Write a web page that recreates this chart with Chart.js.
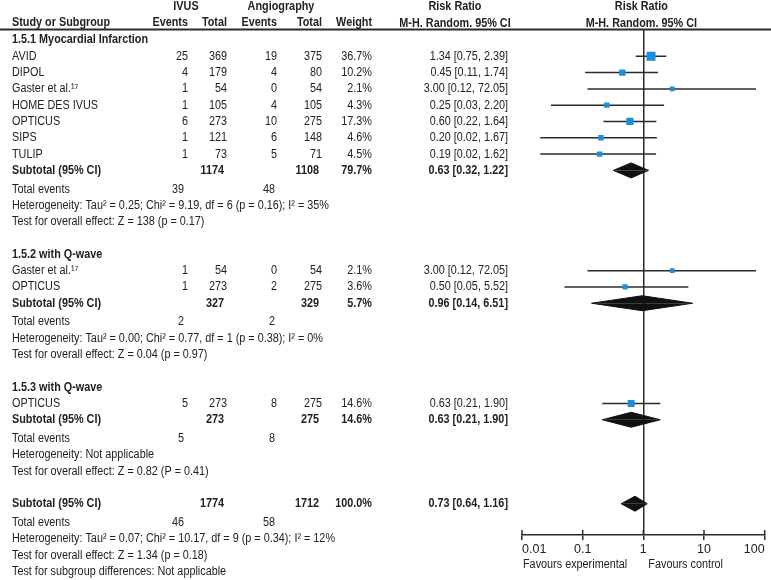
<!DOCTYPE html>
<html>
<head>
<meta charset="utf-8">
<script src="https://cdn.jsdelivr.net/npm/chart.js"></script>
<style>
  body { margin: 0; background: #fff; }
  canvas { display: block; }
</style>
</head>
<body>
<canvas id="forest" width="771" height="580"></canvas>
<script>
// ---- data ----
const groupTitles = ["1.5.1 Myocardial Infarction", "1.5.2 with Q-wave", "1.5.3 with Q-wave"];
const studyNames = [
  ["AVID", "DIPOL", "Gaster et al.\u00B9\u2077", "HOME DES IVUS", "OPTICUS", "SIPS", "TULIP"],
  ["Gaster et al.\u00B9\u2077", "OPTICUS"],
  ["OPTICUS"],
];
const ivusEvents = [[25, 4, 1, 1, 6, 1, 1], [1, 1], [5]];
const ivusTotal = [[369, 179, 54, 105, 273, 121, 73], [54, 273], [273]];
const angioEvents = [[19, 4, 0, 4, 10, 6, 5], [0, 2], [8]];
const angioTotal = [[375, 80, 54, 105, 275, 148, 71], [54, 275], [275]];
const weights = [[36.7, 10.2, 2.1, 4.3, 17.3, 4.6, 4.5], [2.1, 3.6], [14.6]];
const riskRatio = [[1.34, 0.45, 3.0, 0.25, 0.6, 0.2, 0.19], [3.0, 0.5], [0.63]];
const ciLow = [[0.75, 0.11, 0.12, 0.03, 0.22, 0.02, 0.02], [0.12, 0.05], [0.21]];
const ciHigh = [[2.39, 1.74, 72.05, 2.2, 1.64, 1.67, 1.62], [72.05, 5.52], [1.9]];

const subIvusTotal = [1174, 327, 273];
const subAngioTotal = [1108, 329, 275];
const subWeight = ["79.7%", "5.7%", "14.6%"];
const subRR = [0.63, 0.96, 0.63];
const subLow = [0.32, 0.14, 0.21];
const subHigh = [1.22, 6.51, 1.9];
const subEventsIvus = [39, 2, 5];
const subEventsAngio = [48, 2, 8];
const heterogeneity = [
  "Heterogeneity: Tau\u00B2 = 0.25; Chi\u00B2 = 9.19, df = 6 (p = 0.16); I\u00B2 = 35%",
  "Heterogeneity: Tau\u00B2 = 0.00; Chi\u00B2 = 0.77, df = 1 (p = 0.38); I\u00B2 = 0%",
  "Heterogeneity: Not applicable",
];
const overallEffect = [
  "Test for overall effect: Z = 138 (p = 0.17)",
  "Test for overall effect: Z = 0.04 (p = 0.97)",
  "Test for overall effect: Z = 0.82 (P = 0.41)",
];

const totalIvus = 1774;
const totalAngio = 1712;
const totalWeight = "100.0%";
const totalEvents = [46, 58];
const totalText = "0.73 [0.64, 1.16]";
const totalMark = [0.43, 0.73, 1.16]; // diamond as drawn: low, estimate, high
const totalNotes = [
  "Heterogeneity: Tau\u00B2 = 0.07; Chi\u00B2 = 10.17, df = 9 (p = 0.34); I\u00B2 = 12%",
  "Test for overall effect: Z = 1.34 (p = 0.18)",
  "Test for subgroup differences: Not applicable",
];
const axisTicks = [0.01, 0.1, 1, 10, 100];

// ---- layout: one slot per text line ----
const FONT = '"Liberation Sans", Arial, sans-serif';
const FS = 12.5;
const INK = "#222";
const LINE = "#2b2b2b";
const BLUE = "#1b8edc";

const rows = [];
let slot = 0;
groupTitles.forEach(function (title, g) {
  rows.push({ type: "title", slot: slot, g: g });
  slot += 1;
  studyNames[g].forEach(function (name, i) {
    rows.push({ type: "study", slot: slot, g: g, i: i });
    slot += 1;
  });
  rows.push({ type: "subtotal", slot: slot, g: g });
  slot += 1.15;
  rows.push({ type: "events", slot: slot, g: g });
  slot += 1;
  rows.push({ type: "note", slot: slot, text: heterogeneity[g] });
  slot += 1;
  rows.push({ type: "note", slot: slot, text: overallEffect[g] });
  slot += 2;
});
rows.push({ type: "total", slot: slot });
slot += 1.15;
rows.push({ type: "totalEvents", slot: slot });
slot += 1;
totalNotes.forEach(function (t) {
  rows.push({ type: "note", slot: slot, text: t });
  slot += 1;
});

function ci(v, lo, hi) {
  return v.toFixed(2) + " [" + lo.toFixed(2) + ", " + hi.toFixed(2) + "]";
}

// ---- datasets ----
const squarePts = [];
const squareSize = [];
const datasets = [];
const ciSets = [];
const diamondSets = [];
const H = 0.46; // diamond half height in slots

function addDiamond(s, lo, est, hi) {
  [-H, H].forEach(function (d) {
    diamondSets.push({
      data: [{ x: lo, y: s }, { x: est, y: s + d }, { x: hi, y: s }],
      showLine: true,
      borderColor: "#111",
      backgroundColor: "#111",
      borderWidth: 1,
      pointRadius: 0,
      fill: { value: s },
    });
  });
}

rows.forEach(function (r) {
  if (r.type === "study") {
    const g = r.g, i = r.i;
    squarePts.push({ x: riskRatio[g][i], y: r.slot });
    squareSize.push((3.5 + 0.9 * Math.sqrt(weights[g][i])) / Math.SQRT2);
    ciSets.push({
      data: [{ x: ciLow[g][i], y: r.slot }, { x: ciHigh[g][i], y: r.slot }],
      showLine: true,
      borderColor: LINE,
      borderWidth: 1.5,
      pointRadius: 0,
    });
  } else if (r.type === "subtotal") {
    addDiamond(r.slot, subLow[r.g], subRR[r.g], subHigh[r.g]);
  } else if (r.type === "total") {
    addDiamond(r.slot, totalMark[0], totalMark[1], totalMark[2]);
  }
});

// first dataset is drawn on top
datasets.push({
  data: squarePts,
  pointStyle: "rect",
  pointRadius: squareSize,
  pointHoverRadius: squareSize,
  backgroundColor: BLUE,
  borderWidth: 0,
});
ciSets.forEach(function (d) { datasets.push(d); });
diamondSets.forEach(function (d) { datasets.push(d); });

// ---- text table drawn next to the plot ----
// the original uses a narrow face: squeeze Liberation Sans to the same width
let squeeze = 1;
function txt(ctx, s, x, y, align, bold) {
  ctx.font = (bold ? "bold " : "") + FS + "px " + FONT;
  const w = ctx.measureText(String(s)).width * squeeze;
  let x0 = x;
  if (align === "right") x0 = x - w;
  else if (align === "center") x0 = x - w / 2;
  ctx.save();
  ctx.translate(x0, y);
  ctx.scale(squeeze, 1);
  ctx.textAlign = "left";
  ctx.fillText(String(s), 0, 0);
  ctx.restore();
}

const forestText = {
  id: "forestText",
  afterDraw: function (chart) {
    const ctx = chart.ctx;
    const ys = chart.scales.y;
    const xs = chart.scales.x;
    const area = chart.chartArea;
    ctx.save();
    ctx.font = FS + "px " + FONT;
    squeeze = 317 / ctx.measureText(heterogeneity[0]).width;

    ctx.fillStyle = LINE;
    ctx.fillRect(0, area.top - 1.5, chart.width, 2);

    // tick marks above the axis line
    ctx.strokeStyle = LINE;
    ctx.lineWidth = 1.5;
    axisTicks.forEach(function (v) {
      const px = xs.getPixelForValue(v);
      ctx.beginPath();
      ctx.moveTo(px, area.bottom - 5);
      ctx.lineTo(px, area.bottom);
      ctx.stroke();
    });

    ctx.fillStyle = INK;
    ctx.textBaseline = "middle";
    const mid = xs.getPixelForValue(1);
    // headers
    txt(ctx, "IVUS", 186, 7, "center", true);
    txt(ctx, "Angiography", 281, 7, "center", true);
    txt(ctx, "Risk Ratio", 455, 7, "center", true);
    txt(ctx, "Risk Ratio", mid - 2, 7, "center", true);
    txt(ctx, "Study or Subgroup", 12, 23, "left", true);
    txt(ctx, "Events", 188, 23, "right", true);
    txt(ctx, "Total", 227, 23, "right", true);
    txt(ctx, "Events", 277, 23, "right", true);
    txt(ctx, "Total", 322, 23, "right", true);
    txt(ctx, "Weight", 372, 23, "right", true);
    txt(ctx, "M-H. Random. 95% CI", 455, 24, "center", true);
    txt(ctx, "M-H. Random. 95% CI", mid - 2, 24, "center", true);

    rows.forEach(function (r) {
      const y = ys.getPixelForValue(r.slot);
      const g = r.g;
      if (r.type === "title") {
        txt(ctx, groupTitles[g], 12, y, "left", true);
      } else if (r.type === "study") {
        const i = r.i;
        txt(ctx, studyNames[g][i], 12, y);
        txt(ctx, ivusEvents[g][i], 188, y, "right");
        txt(ctx, ivusTotal[g][i], 227, y, "right");
        txt(ctx, angioEvents[g][i], 277, y, "right");
        txt(ctx, angioTotal[g][i], 322, y, "right");
        txt(ctx, weights[g][i].toFixed(1) + "%", 372, y, "right");
        txt(ctx, ci(riskRatio[g][i], ciLow[g][i], ciHigh[g][i]), 508, y, "right");
      } else if (r.type === "subtotal") {
        txt(ctx, "Subtotal (95% CI)", 12, y, "left", true);
        txt(ctx, subIvusTotal[g], 224, y, "right", true);
        txt(ctx, subAngioTotal[g], 319, y, "right", true);
        txt(ctx, subWeight[g], 372, y, "right", true);
        txt(ctx, ci(subRR[g], subLow[g], subHigh[g]), 508, y, "right", true);
      } else if (r.type === "events") {
        txt(ctx, "Total events", 12, y);
        txt(ctx, subEventsIvus[g], 184, y, "right");
        txt(ctx, subEventsAngio[g], 275, y, "right");
      } else if (r.type === "note") {
        txt(ctx, r.text, 12, y);
      } else if (r.type === "total") {
        txt(ctx, "Subtotal (95% CI)", 12, y, "left", true);
        txt(ctx, totalIvus, 224, y, "right", true);
        txt(ctx, totalAngio, 319, y, "right", true);
        txt(ctx, totalWeight, 372, y, "right", true);
        txt(ctx, totalText, 508, y, "right", true);
      } else if (r.type === "totalEvents") {
        txt(ctx, "Total events", 12, y);
        txt(ctx, totalEvents[0], 184, y, "right");
        txt(ctx, totalEvents[1], 275, y, "right");
      }
    });

    txt(ctx, "Favours experimental", xs.getPixelForValue(0.01) + 1, 565, "left");
    txt(ctx, "Favours control", mid + 5, 565, "left");
    ctx.restore();
  },
};

const ctx = document.getElementById("forest").getContext("2d");
new Chart(ctx, {
  type: "scatter",
  data: { datasets: datasets },
  options: {
    responsive: false,
    animation: false,
    layout: { padding: { left: 522, right: 3, top: 30, bottom: 0 } },
    plugins: { legend: { display: false }, tooltip: { enabled: false } },
    scales: {
      x: {
        type: "logarithmic",
        min: 0.01,
        max: 100,
        afterBuildTicks: function (scale) {
          scale.ticks = axisTicks.map(function (v) { return { value: v }; });
        },
        afterFit: function (scale) {
          scale.height = 45;
          scale.paddingLeft = 0;
          scale.paddingRight = 0;
        },
        grid: {
          color: function (c) {
            return c.tick && c.tick.value === 1 ? LINE : "rgba(0,0,0,0)";
          },
          lineWidth: 1.5,
          drawTicks: true,
          tickLength: 5,
          tickColor: LINE,
          tickWidth: 1.5,
        },
        border: { display: true, color: LINE, width: 1.5 },
        ticks: {
          align: "inner",
          padding: 2,
          color: INK,
          autoSkip: false,
          maxRotation: 0,
          font: { size: 12.5, family: FONT },
          callback: function (v) { return String(v); },
        },
      },
      y: {
        type: "linear",
        reverse: true,
        min: -0.613,
        max: 30.37,
        display: false,
      },
    },
  },
  plugins: [forestText],
});
</script>
</body>
</html>
